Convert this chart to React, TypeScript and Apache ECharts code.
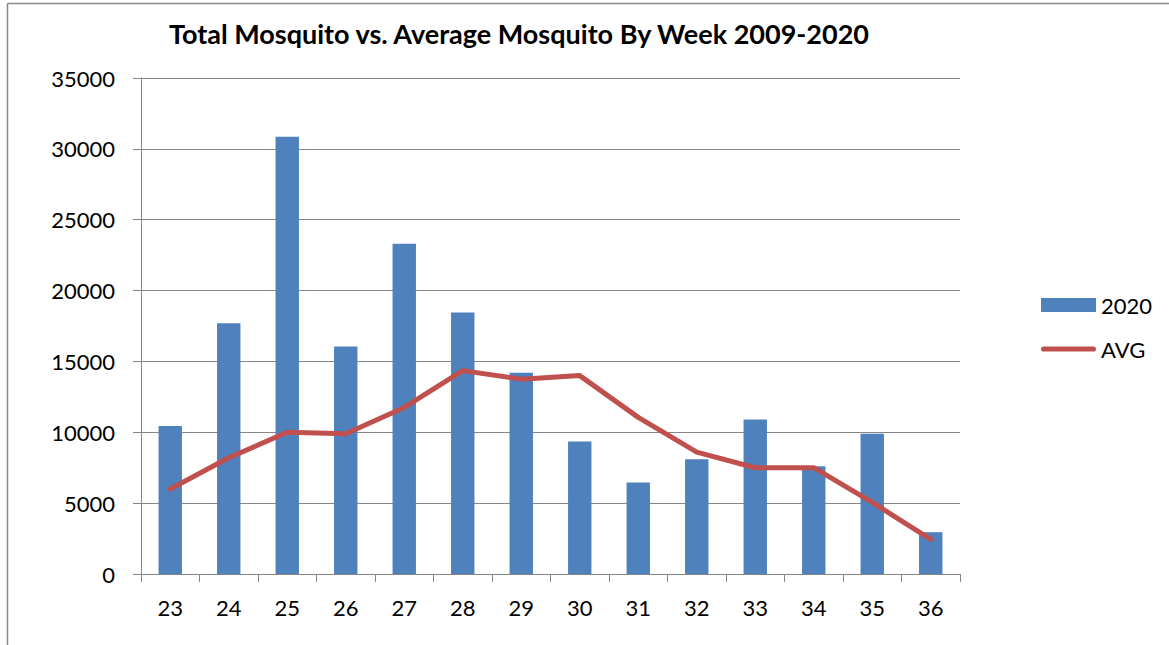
import React, { useEffect, useRef } from "react";
import * as echarts from "echarts";

const weeks = ["23", "24", "25", "26", "27", "28", "29", "30", "31", "32", "33", "34", "35", "36"];
const total2020 = [10450, 17700, 30850, 16050, 23300, 18450, 14200, 9350, 6450, 8100, 10900, 7600, 9900, 2950];
const avg = [6000, 8200, 10000, 9900, 11750, 14350, 13750, 14000, 11050, 8600, 7500, 7500, 5050, 2450];
const titleText = "Total Mosquito vs. Average Mosquito By Week 2009-2020";

const FONT = "Lato, 'Open Sans', sans-serif";

export default function App() {
  const ref = useRef<HTMLDivElement>(null);
  useEffect(() => {
    const chart = echarts.init(ref.current!, undefined, { renderer: "svg" });
    chart.setOption({
      animation: false,
      backgroundColor: "#ffffff",
      title: {
        text: titleText,
        left: 514,
        textAlign: "center",
        top: 15,
        textStyle: { fontFamily: FONT, fontSize: 27, fontWeight: "bold", color: "#000" },
      },
      legend: {
        orient: "vertical",
        left: 1036,
        top: 289,
        itemGap: 22,
        itemWidth: 55,
        itemHeight: 14,
        textStyle: { fontFamily: FONT, fontSize: 22, color: "#000" },
        data: [
          { name: "2020", icon: "rect" },
          { name: "AVG", icon: "path://M2.5,0 L51.5,0 A2.5,2.5 0 0 1 51.5,5 L2.5,5 A2.5,2.5 0 0 1 2.5,0 Z" },
        ],
      },
      grid: { left: 141, right: 209, top: 78, bottom: 71, containLabel: false },
      xAxis: {
        type: "category",
        data: weeks,
        boundaryGap: true,
        axisLine: { lineStyle: { color: "#868686", width: 1 } },
        axisTick: { show: true, interval: 0, length: 8, lineStyle: { color: "#868686" } },
        axisLabel: { fontFamily: FONT, fontSize: 22, color: "#000", margin: 22, interval: 0 },
      },
      yAxis: {
        type: "value",
        min: 0,
        max: 35000,
        interval: 5000,
        axisLine: { show: true, lineStyle: { color: "#868686", width: 1 } },
        axisTick: { show: true, length: 8, lineStyle: { color: "#868686" } },
        splitLine: { lineStyle: { color: "#868686", width: 1 } },
        axisLabel: { fontFamily: FONT, fontSize: 22, color: "#000", margin: 26, formatter: (v: number) => String(v) },
      },
      series: [
        {
          name: "2020",
          type: "bar",
          data: total2020,
          barWidth: "40%",
          itemStyle: { color: "#4F81BD" },
        },
        {
          name: "AVG",
          type: "line",
          data: avg,
          symbol: "none",
          lineStyle: { color: "#C0504D", width: 5, cap: "round", join: "round" },
          itemStyle: { color: "#C0504D" },
        },
      ],
      graphic: [
        { type: "line", shape: { x1: 7.5, y1: 3.5, x2: 1169, y2: 3.5 }, style: { stroke: "#888", lineWidth: 1.5 } },
        { type: "line", shape: { x1: 7.5, y1: 3.5, x2: 7.5, y2: 645 }, style: { stroke: "#888", lineWidth: 1.5 } },
      ],
    });
    return () => chart.dispose();
  }, []);
  return <div ref={ref} style={{ position: "fixed", left: 0, top: 0, width: 1169, height: 645 }} />;
}
